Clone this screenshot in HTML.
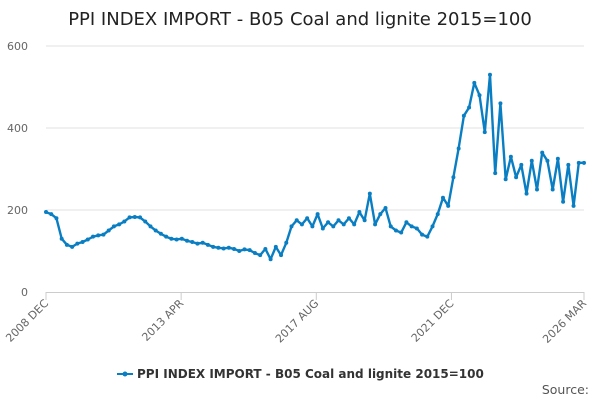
<!DOCTYPE html>
<html><head><meta charset="utf-8"><style>
body{margin:0;background:#fff;font-family:"DejaVu Sans","Liberation Sans",sans-serif;}
svg{display:block}
</style></head><body>
<svg id="chart" width="600" height="400" viewBox="0 0 600 400">
<text x="300" y="25" text-anchor="middle" font-size="18" fill="#222">PPI INDEX IMPORT - B05 Coal and lignite 2015=100</text>
<g id="grid"></g><g id="axes"></g><g id="series"></g>
<g>
<line x1="117" y1="374" x2="133" y2="374" stroke="#0a7ec2" stroke-width="2"/>
<circle cx="125" cy="374" r="2.5" fill="#0a7ec2"/>
<text x="137" y="378" font-size="12" font-weight="bold" fill="#333">PPI INDEX IMPORT - B05 Coal and lignite 2015=100</text>
</g>
<text x="589" y="394" text-anchor="end" font-size="12.5" fill="#555">Source:</text>
</svg>
<script>
const yTicks=[0,200,400,600];
const xTickLabels=["2008 DEC","2013 APR","2017 AUG","2021 DEC","2026 MAR"];
const xTickMonths=[0,52,104,156,207];
const values=[195,190,180,130,115,110,118,122,128,135,138,140,150,160,165,172,182,183,182,172,160,150,142,135,130,128,
130,125,122,118,120,115,110,108,106,108,105,100,104,102,95,90,105,80,110,90,
120,160,175,165,180,160,190,155,170,160,175,165,180,165,195,175,240,165,190,205,160,150,145,170,160,155,
140,135,160,190,230,210,280,350,430,450,510,480,390,530,290,460,275,330,280,310,240,320,250,340,320,250,325,220,310,210,315,315];
const X0=46,X1=584,Y0=292,YS=0.41,totalMonths=207;
const xm=m=>X0+(X1-X0)*m/totalMonths;
const xi=i=>xm(i*totalMonths/(values.length-1));
const y=v=>Y0-v*YS;
const ns="http://www.w3.org/2000/svg";
const mk=(t,a,p)=>{const e=document.createElementNS(ns,t);for(const k in a)e.setAttribute(k,a[k]);p.appendChild(e);return e;};
const grid=document.getElementById('grid'),axes=document.getElementById('axes'),ser=document.getElementById('series');
yTicks.forEach(v=>{
 if(v>0){const l=mk('line',{x1:X0,x2:X1,y1:y(v),y2:y(v),stroke:'#e0e0e0','stroke-width':1},grid);
 
 }
 const t=mk('text',{x:28,y:y(v)+4,'text-anchor':'end','font-size':11,fill:'#666'},axes);t.textContent=v;
 
 
});
const ax=mk('line',{x1:X0,x2:X1,y1:Y0+0.5,y2:Y0+0.5,stroke:'#ccc'},axes);


xTickLabels.forEach((s,i)=>{
 const x=xm(xTickMonths[i]);
 const tk=mk('line',{x1:x,x2:x,y1:Y0,y2:Y0+8,stroke:'#ccc'},axes);
 
 
 const t=mk('text',{x:x+3,y:Y0+12,'text-anchor':'end','font-size':11,fill:'#666',transform:`rotate(-45 ${x+3} ${Y0+12})`},axes);
 t.textContent=s;
 
 
});
const path=mk('path',{d:values.map((v,i)=>(i?'L':'M')+xi(i).toFixed(1)+' '+y(v).toFixed(1)).join(''),fill:'none',stroke:'#0a7ec2','stroke-width':2.4,'stroke-linejoin':'round'},ser);


values.forEach((v,i)=>{
 const c=mk('circle',{cx:xi(i),cy:y(v),r:2,fill:'#0a7ec2'},ser);
 
 
});
</script>
</body></html>
